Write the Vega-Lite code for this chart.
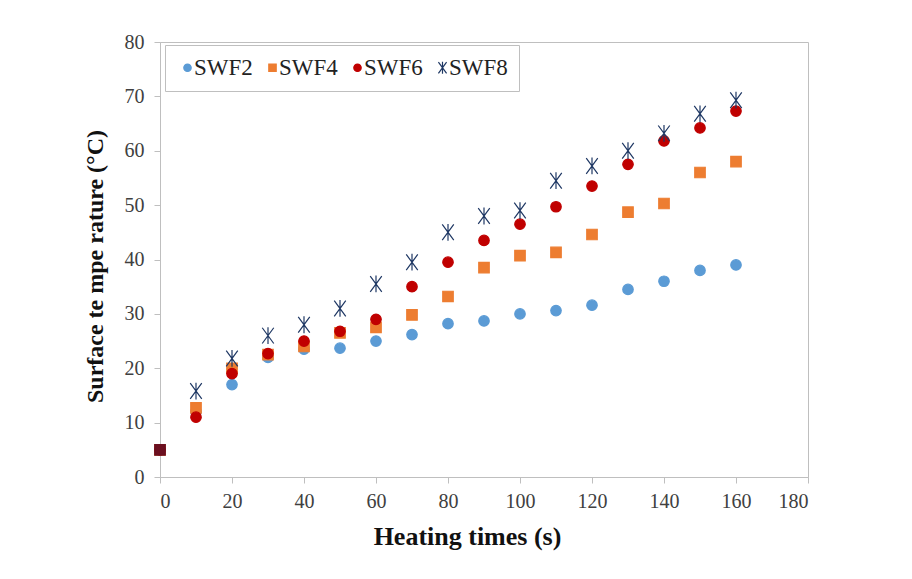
{
  "$schema": "https://vega.github.io/schema/vega-lite/v6.json",
  "autosize": "none",
  "width": 648,
  "height": 435,
  "padding": {"left": 160, "top": 42, "right": 104, "bottom": 102},
  "background": "white",
  "config": {
    "view": {"stroke": "#bfbfbf", "strokeWidth": 1}
  },
  "data": {
    "values": [
      {"t": 0, "series": "SWF2", "temp": 5},
      {"t": 10, "series": "SWF2", "temp": 12},
      {"t": 20, "series": "SWF2", "temp": 17},
      {"t": 30, "series": "SWF2", "temp": 22},
      {"t": 40, "series": "SWF2", "temp": 23.5},
      {"t": 50, "series": "SWF2", "temp": 23.7},
      {"t": 60, "series": "SWF2", "temp": 25},
      {"t": 70, "series": "SWF2", "temp": 26.2},
      {"t": 80, "series": "SWF2", "temp": 28.2},
      {"t": 90, "series": "SWF2", "temp": 28.7},
      {"t": 100, "series": "SWF2", "temp": 30},
      {"t": 110, "series": "SWF2", "temp": 30.6},
      {"t": 120, "series": "SWF2", "temp": 31.6},
      {"t": 130, "series": "SWF2", "temp": 34.5},
      {"t": 140, "series": "SWF2", "temp": 36},
      {"t": 150, "series": "SWF2", "temp": 38},
      {"t": 160, "series": "SWF2", "temp": 39},
      {"t": 0, "series": "SWF4", "temp": 5},
      {"t": 10, "series": "SWF4", "temp": 12.7},
      {"t": 20, "series": "SWF4", "temp": 20},
      {"t": 30, "series": "SWF4", "temp": 22.5},
      {"t": 40, "series": "SWF4", "temp": 24},
      {"t": 50, "series": "SWF4", "temp": 26.5},
      {"t": 60, "series": "SWF4", "temp": 27.5},
      {"t": 70, "series": "SWF4", "temp": 29.8},
      {"t": 80, "series": "SWF4", "temp": 33.2},
      {"t": 90, "series": "SWF4", "temp": 38.5},
      {"t": 100, "series": "SWF4", "temp": 40.7},
      {"t": 110, "series": "SWF4", "temp": 41.3},
      {"t": 120, "series": "SWF4", "temp": 44.6},
      {"t": 130, "series": "SWF4", "temp": 48.7},
      {"t": 140, "series": "SWF4", "temp": 50.3},
      {"t": 150, "series": "SWF4", "temp": 56},
      {"t": 160, "series": "SWF4", "temp": 58},
      {"t": 0, "series": "SWF6", "temp": 5},
      {"t": 10, "series": "SWF6", "temp": 11},
      {"t": 20, "series": "SWF6", "temp": 19},
      {"t": 30, "series": "SWF6", "temp": 22.7},
      {"t": 40, "series": "SWF6", "temp": 25},
      {"t": 50, "series": "SWF6", "temp": 26.8},
      {"t": 60, "series": "SWF6", "temp": 29},
      {"t": 70, "series": "SWF6", "temp": 35},
      {"t": 80, "series": "SWF6", "temp": 39.5},
      {"t": 90, "series": "SWF6", "temp": 43.5},
      {"t": 100, "series": "SWF6", "temp": 46.5},
      {"t": 110, "series": "SWF6", "temp": 49.7},
      {"t": 120, "series": "SWF6", "temp": 53.5},
      {"t": 130, "series": "SWF6", "temp": 57.5},
      {"t": 140, "series": "SWF6", "temp": 61.8},
      {"t": 150, "series": "SWF6", "temp": 64.2},
      {"t": 160, "series": "SWF6", "temp": 67.3},
      {"t": 10, "series": "SWF8", "temp": 15.8},
      {"t": 20, "series": "SWF8", "temp": 21.8},
      {"t": 30, "series": "SWF8", "temp": 26},
      {"t": 40, "series": "SWF8", "temp": 28},
      {"t": 50, "series": "SWF8", "temp": 31},
      {"t": 60, "series": "SWF8", "temp": 35.5},
      {"t": 70, "series": "SWF8", "temp": 39.5},
      {"t": 80, "series": "SWF8", "temp": 45},
      {"t": 90, "series": "SWF8", "temp": 48},
      {"t": 100, "series": "SWF8", "temp": 49},
      {"t": 110, "series": "SWF8", "temp": 54.5},
      {"t": 120, "series": "SWF8", "temp": 57.2},
      {"t": 130, "series": "SWF8", "temp": 60},
      {"t": 140, "series": "SWF8", "temp": 63.2},
      {"t": 150, "series": "SWF8", "temp": 66.8},
      {"t": 160, "series": "SWF8", "temp": 69.3},
      {"t": 0, "series": "t0", "temp": 5}
    ]
  },
  "mark": {"type": "point", "filled": true, "opacity": 1, "size": 110, "strokeWidth": 1.2},
  "encoding": {
    "x": {
      "field": "t", "type": "quantitative",
      "scale": {"domain": [0, 180], "nice": false, "zero": true},
      "axis": {
        "title": "Heating times (s)", "values": [0, 20, 40, 60, 80, 100, 120, 140, 160, 180],
        "grid": false, "domainColor": "#bfbfbf", "tickColor": "#bfbfbf", "tickSize": 6,
        "labelFont": "Liberation Serif", "labelFontSize": 20, "labelColor": "#404040", "labelPadding": 8,
        "titleFont": "Liberation Serif", "titleFontSize": 26, "titleFontWeight": "bold", "titleColor": "#111111", "titlePadding": 12,
        "titleX": 307, "titleAlign": "center"
      }
    },
    "y": {
      "field": "temp", "type": "quantitative",
      "scale": {"domain": [0, 80], "nice": false},
      "axis": {
        "title": "Surface  te mpe rature (\u00b0C)", "values": [0, 10, 20, 30, 40, 50, 60, 70, 80],
        "grid": false, "domainColor": "#bfbfbf", "tickColor": "#bfbfbf", "tickSize": 6,
        "labelFont": "Liberation Serif", "labelFontSize": 20, "labelColor": "#404040", "labelPadding": 10,
        "titleFont": "Liberation Serif", "titleFontSize": 24, "titleFontWeight": "bold", "titleColor": "#111111", "titlePadding": 17,
        "titleY": 224
      }
    },
    "color": {
      "field": "series", "type": "nominal",
      "scale": {"domain": ["SWF2", "SWF4", "SWF6", "SWF8", "t0"], "range": ["#5B9BD5", "#ED7D31", "#C00000", "#1F3864", "#6B1020"]},
      "legend": {
        "title": null, "orient": "none", "legendX": 5, "legendY": 3, "direction": "horizontal",
        "values": ["SWF2", "SWF4", "SWF6", "SWF8"],
        "strokeColor": "#bfbfbf", "padding": 11, "columnPadding": 8,
        "labelFont": "Liberation Serif", "labelFontSize": 23, "labelColor": "#222222", "labelOffset": -5,
        "symbolSize": 55, "symbolStrokeWidth": 1.2
      }
    },
    "stroke": {
      "field": "series", "type": "nominal",
      "scale": {"domain": ["SWF2", "SWF4", "SWF6", "SWF8", "t0"], "range": ["#5B9BD5", "#ED7D31", "#C00000", "#1F3864", "#6B1020"]},
      "legend": null
    },
    "shape": {
      "field": "series", "type": "nominal",
      "scale": {"domain": ["SWF2", "SWF4", "SWF6", "SWF8", "t0"], "range": ["circle", "square", "circle", "M-1.1,-1.5L1.1,1.5M-1.1,1.5L1.1,-1.5M0,-1.6L0,1.6", "square"]},
      "legend": null
    },
    "order": {"field": "series"}
  }
}
